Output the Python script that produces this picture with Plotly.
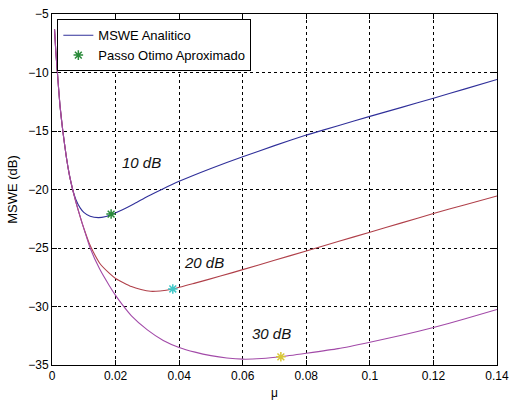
import plotly.graph_objects as go

# ---- data ----
mu_10 = [0.0008, 0.0012, 0.0017, 0.0025, 0.0034, 0.0045, 0.0055, 0.0065, 0.0075, 0.0088,
         0.010, 0.012, 0.0146, 0.017, 0.0186, 0.022, 0.026, 0.030, 0.035, 0.040,
         0.050, 0.060, 0.070, 0.080, 0.090, 0.100, 0.110, 0.120, 0.130, 0.140]
mswe_10 = [-6.3, -8.2, -10.0, -12.8, -15.0, -17.2, -18.8, -20.0, -20.85, -21.55,
           -21.95, -22.28, -22.4, -22.3, -22.15, -21.75, -21.2, -20.6, -19.93, -19.3,
           -18.2, -17.2, -16.25, -15.35, -14.55, -13.75, -12.98, -12.2, -11.4, -10.6]

mu_20 = [0.0008, 0.0012, 0.0017, 0.0025, 0.0034, 0.0045, 0.0055, 0.0065, 0.0075, 0.0085,
         0.0095, 0.0105, 0.0117, 0.013, 0.015, 0.018, 0.020, 0.025, 0.028, 0.031,
         0.034, 0.038, 0.045, 0.053, 0.060, 0.070, 0.080, 0.090, 0.100, 0.110,
         0.120, 0.130, 0.140]
mswe_20 = [-6.3, -8.2, -10.0, -12.8, -15.0, -17.2, -18.8, -20.0, -21.05, -22.0,
           -22.9, -23.7, -24.6, -25.35, -26.3, -27.15, -27.6, -28.3, -28.55, -28.7,
           -28.67, -28.5, -28.0, -27.4, -26.85, -26.05, -25.25, -24.45, -23.65, -22.85,
           -22.05, -21.3, -20.55]

mu_30 = [0.0008, 0.0012, 0.0017, 0.0025, 0.0034, 0.0045, 0.0055, 0.0065, 0.0075, 0.0085,
         0.0095, 0.0105, 0.012, 0.015, 0.018, 0.020, 0.022, 0.025, 0.030, 0.035,
         0.040, 0.045, 0.050, 0.055, 0.060, 0.066, 0.072, 0.080, 0.090, 0.100,
         0.110, 0.120, 0.130, 0.140]
mswe_30 = [-6.3, -8.2, -10.0, -12.8, -15.0, -17.2, -18.8, -20.0, -21.05, -22.0,
           -22.9, -23.75, -25.0, -26.8, -28.2, -29.05, -29.8, -30.8, -32.0, -32.9,
           -33.5, -33.9, -34.2, -34.4, -34.5, -34.45, -34.3, -34.0, -33.6, -33.05,
           -32.45, -31.8, -31.05, -30.25]

opt_mu = [0.0186, 0.038, 0.072]
opt_mswe = [-22.1, -28.5, -34.3]
opt_colors = ["#2a8a3a", "#40c8c8", "#d8c838"]

snr_labels = ["10 dB", "20 dB", "30 dB"]
snr_label_mu = [0.0283, 0.0478, 0.0689]
snr_label_mswe = [-17.7, -26.2, -32.3]

x_ticks = [0, 0.02, 0.04, 0.06, 0.08, 0.1, 0.12, 0.14]
x_ticktext = ["0", "0.02", "0.04", "0.06", "0.08", "0.1", "0.12", "0.14"]
y_ticks = [-35, -30, -25, -20, -15, -10, -5]

line_colors = ["#30309a", "#b0404a", "#a24aa8"]

fig = go.Figure()
for i, (mx, my) in enumerate([(mu_10, mswe_10), (mu_20, mswe_20), (mu_30, mswe_30)]):
    fig.add_trace(go.Scatter(
        x=mx, y=my, mode="lines",
        line=dict(color=line_colors[i], width=1.1, shape="spline", smoothing=0.5),
        name="MSWE Analitico", showlegend=(i == 0), hoverinfo="skip"))

for i in range(3):
    fig.add_trace(go.Scatter(
        x=[opt_mu[i]], y=[opt_mswe[i]], mode="markers",
        marker=dict(symbol="asterisk-open", size=8, color=opt_colors[i],
                    line=dict(color=opt_colors[i], width=1.5)),
        name="Passo Otimo Aproximado", showlegend=(i == 0)))

for t, x, y in zip(snr_labels, snr_label_mu, snr_label_mswe):
    fig.add_annotation(x=x, y=y, text="<i>%s</i>" % t, showarrow=False,
                       font=dict(size=15, color="#111111", family="Liberation Sans, Arial"))

axis_common = dict(showline=True, linecolor="black", linewidth=1, mirror="ticks",
                   ticks="inside", ticklen=5, tickcolor="black",
                   showgrid=True, gridcolor="black", gridwidth=1, griddash="3px,3px",
                   zeroline=False, automargin=False,
                   tickfont=dict(size=12, color="black"))

fig.update_xaxes(range=[0, 0.14], tickvals=x_ticks, ticktext=x_ticktext,
                 title=dict(text="μ", font=dict(size=12), standoff=6), **axis_common)
fig.update_yaxes(range=[-35, -5], tickvals=y_ticks,
                 title=dict(text="MSWE (dB)", font=dict(size=13), standoff=7), **axis_common)

fig.update_layout(
    width=511, height=402,
    margin=dict(l=52, r=14, t=14, b=37),
    paper_bgcolor="white", plot_bgcolor="white",
    font=dict(family="Liberation Sans, Arial", size=12, color="black"),
    legend=dict(x=0.012, y=0.985, xanchor="left", yanchor="top",
                bgcolor="white", bordercolor="black", borderwidth=1,
                font=dict(size=13), tracegroupgap=0,
                itemwidth=30),
)

fig.write_html("out.html")
